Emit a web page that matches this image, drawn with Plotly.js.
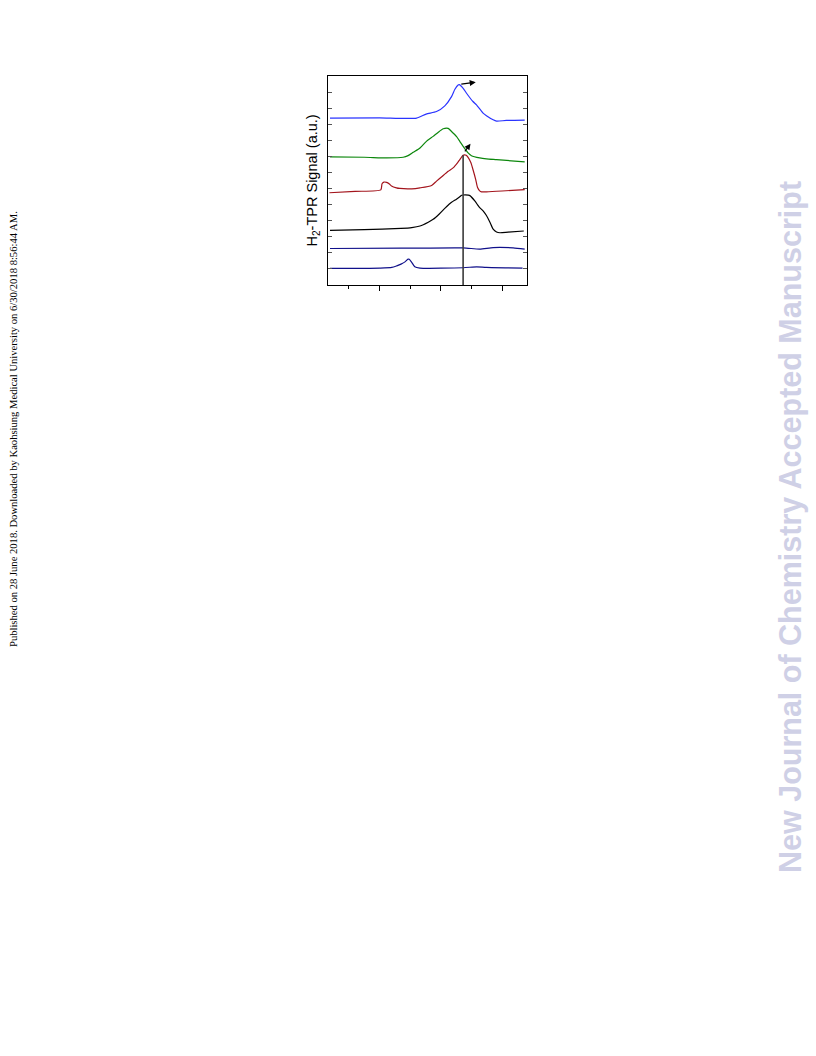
<!DOCTYPE html>
<html>
<head>
<meta charset="utf-8">
<script src="https://cdn.plot.ly/plotly-3.0.1.min.js"></script>
<style>html,body{margin:0;padding:0;background:#fff;}#chart{width:816px;height:1056px;}</style>
</head>
<body>
<div id="chart"></div>
<script>
// Temperature (°C, estimated) and offset H2-TPR signals (a.u.)
const tBlueTop = [38, 200, 321, 352, 386, 413, 435, 446, 456.5, 460, 473, 484, 505, 516.5, 538, 549, 571, 582, 614, 674];
const sBlueTop = [10.42, 10.43, 10.42, 10.67, 10.83, 11.19, 11.77, 12.23, 12.5, 12.52, 12.29, 11.98, 11.46, 11.25, 10.73, 10.57, 10.31, 10.23, 10.27, 10.29];

const tGreen = [38, 150, 223, 277, 293, 310, 332, 353, 375, 391, 408, 424, 435, 451, 462, 473, 489, 500, 527, 549, 582, 674];
const sGreen = [7.98, 7.96, 7.92, 7.96, 8.06, 8.27, 8.54, 8.96, 9.27, 9.52, 9.75, 9.77, 9.58, 9.27, 8.96, 8.64, 8.23, 8.06, 7.92, 7.86, 7.81, 7.67];

const tRed = [36, 120, 204, 208, 214, 223, 232, 239, 255, 266, 305, 332, 370, 386, 402, 424, 440, 455, 462, 473, 477, 483, 489, 498, 505, 514, 520, 527, 533, 549, 600, 674];
const sRed = [5.73, 5.82, 5.91, 6.30, 6.40, 6.38, 6.28, 6.16, 6.04, 6.0, 5.98, 6.04, 6.19, 6.46, 6.72, 7.08, 7.29, 7.63, 7.81, 8.08, 8.11, 8.08, 7.95, 7.63, 7.19, 6.56, 6.06, 5.85, 5.79, 5.79, 5.84, 5.93];

const tBlack = [38, 150, 270, 305, 332, 359, 375, 395, 413, 430, 451, 462, 468, 473, 490, 495, 511, 522, 527, 540, 549, 560, 571, 582, 593, 620, 671];
const sBlack = [3.37, 3.42, 3.49, 3.54, 3.64, 3.88, 4.06, 4.40, 4.75, 5.06, 5.33, 5.48, 5.57, 5.59, 5.58, 5.55, 5.22, 4.92, 4.80, 4.55, 4.30, 3.90, 3.45, 3.27, 3.22, 3.26, 3.33];

const tNavyFlat = [38, 272, 473, 527, 571, 636, 674];
const sNavyFlat = [2.23, 2.25, 2.27, 2.19, 2.29, 2.27, 2.19];

const tNavy = [38, 201, 240, 256, 270, 283, 293, 297, 305, 315, 332, 473, 517, 549, 667];
const sNavy = [0.98, 1.0, 1.04, 1.14, 1.25, 1.39, 1.56, 1.55, 1.36, 1.08, 1.0, 1.02, 1.08, 1.04, 1.0];

// Guide line at the red peak temperature and shift arrows [tail T, tail S, head T, head S]
const guideT = 472.8;
const guideTop = 8.08;
const arrowTop = [462, 12.54, 514, 12.67];
const arrowMid = [475, 8.23, 497, 8.81];

const traces = [
  {x: tBlueTop, y: sBlueTop, color: '#2a34ff'},
  {x: tGreen, y: sGreen, color: '#0c870c'},
  {x: tRed, y: sRed, color: '#a3141c'},
  {x: tBlack, y: sBlack, color: '#000000'},
  {x: tNavyFlat, y: sNavyFlat, color: '#10108a'},
  {x: tNavy, y: sNavy, color: '#10108a'}
].map(s => ({
  x: s.x, y: s.y, type: 'scatter', mode: 'lines',
  line: {color: s.color, width: 1.2, shape: 'spline', smoothing: 0.6},
  hoverinfo: 'skip', showlegend: false
}));

traces.push({
  x: [guideT, guideT], y: [-0.0625, guideTop], type: 'scatter', mode: 'lines',
  line: {color: '#3a3a3a', width: 1.6}, hoverinfo: 'skip', showlegend: false
});

const layout = {
  width: 816, height: 1056,
  margin: {l: 328, r: 289, t: 76, b: 771},
  paper_bgcolor: '#ffffff', plot_bgcolor: '#ffffff',
  showlegend: false,
  xaxis: {
    range: [31.5, 681.5], showgrid: false, zeroline: false,
    showline: true, linecolor: '#000', linewidth: 1, mirror: true,
    ticks: 'outside', ticklen: 5, tickwidth: 1, tickcolor: '#000',
    tick0: 0, dtick: 200, showticklabels: false,
    minor: {dtick: 100, tick0: 0, ticklen: 3, tickwidth: 1, tickcolor: '#000', ticks: 'outside', showgrid: false}
  },
  yaxis: {
    range: [-0.0625, 13.0625], showgrid: false, zeroline: false,
    showline: true, linecolor: '#000', linewidth: 1, mirror: 'ticks',
    ticks: 'inside', ticklen: 4, tickwidth: 1, tickcolor: '#555',
    tick0: 0, dtick: 1, showticklabels: false
  },
  annotations: [
    {x: arrowTop[2], y: arrowTop[3], ax: arrowTop[0], ay: arrowTop[1], xref: 'x', yref: 'y', axref: 'x', ayref: 'y',
     showarrow: true, arrowhead: 2, arrowsize: 1, arrowwidth: 1.2, arrowcolor: '#000', text: ''},
    {x: arrowMid[2], y: arrowMid[3], ax: arrowMid[0], ay: arrowMid[1], xref: 'x', yref: 'y', axref: 'x', ayref: 'y',
     showarrow: true, arrowhead: 2, arrowsize: 1, arrowwidth: 1.2, arrowcolor: '#000', text: ''},
    {xref: 'paper', yref: 'paper', x: 0, y: 0.5, xshift: -16, xanchor: 'center', yanchor: 'middle',
     textangle: -90, showarrow: false, text: 'H<sub>2</sub>-TPR Signal (a.u.)',
     font: {family: 'Liberation Sans, Arial, sans-serif', size: 14.5, color: '#000'}},
    {xref: 'paper', yref: 'paper', x: (13 - 328) / 199, y: (285 - 429) / 209, xanchor: 'center', yanchor: 'middle',
     textangle: -90, showarrow: false,
     text: 'Published on 28 June 2018. Downloaded by Kaohsiung Medical University on 6/30/2018 8:56:44 AM.',
     font: {family: 'Liberation Serif, Times New Roman, serif', size: 10.6, color: '#000'}},
    {xref: 'paper', yref: 'paper', x: (790 - 328) / 199, y: (285 - 527) / 209, xanchor: 'center', yanchor: 'middle',
     textangle: -90, showarrow: false,
     text: '<b>New Journal of Chemistry Accepted Manuscript</b>',
     font: {family: 'Liberation Sans, Arial, sans-serif', size: 30.5, color: '#cfd0e6'}}
  ]
};

Plotly.newPlot('chart', traces, layout, {staticPlot: true, displayModeBar: false});
</script>
</body>
</html>
